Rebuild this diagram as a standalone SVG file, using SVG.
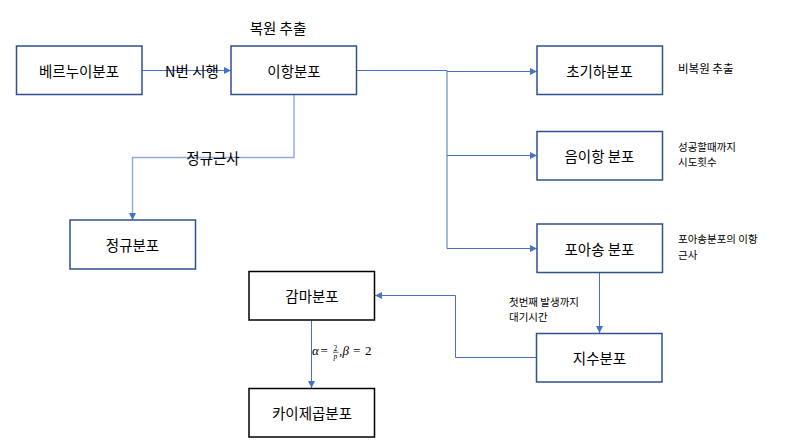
<svg xmlns="http://www.w3.org/2000/svg" width="800" height="443" viewBox="0 0 800 443">
<style>
.box{fill:#fff;stroke:#2F528F;stroke-width:1.5}
.bbox{fill:#fff;stroke:#000;stroke-width:1.5}
.nt{font-family:"Noto Sans CJK KR","Noto Sans",sans-serif;font-size:14.5px;fill:#000;text-anchor:middle;dominant-baseline:central}
.lt{font-family:"Noto Sans CJK KR","Noto Sans",sans-serif;font-size:14.5px;fill:#000}
.st{font-family:"Noto Sans CJK KR","Noto Sans",sans-serif;font-size:11.5px;fill:#000}
.st2{font-family:"Noto Sans CJK KR","Noto Sans",sans-serif;font-size:10.5px;fill:#000}
.ln{fill:none;stroke:#4472C4;stroke-width:1}
.ln2{fill:none;stroke:#8FAADC;stroke-width:1.4}
.mt{font-family:"Liberation Serif","DejaVu Serif",serif;font-size:13px;fill:#000}
.mi{font-style:italic}
</style>
<defs>
<marker id="ah" markerWidth="8" markerHeight="8" refX="7" refY="4" orient="auto" markerUnits="userSpaceOnUse">
<path d="M0,0.5 L7,4 L0,7.5 Z" fill="#4472C4"/>
</marker>
</defs>
<rect width="800" height="443" fill="#fff"/>
<g id="connectors">
<path class="ln" d="M142,70.5 H231" marker-end="url(#ah)"/>
<path class="ln2" d="M294,95 V157.5 H132.5 V220" marker-end="url(#ah)"/>
<path class="ln" d="M357,70.5 H447 V248.5"/>
<path class="ln" d="M447,71.5 H537" marker-end="url(#ah)"/>
<path class="ln" d="M447,155.5 H537" marker-end="url(#ah)"/>
<path class="ln" d="M447,248.5 H537" marker-end="url(#ah)"/>
<path class="ln" d="M599.5,272.5 V333" marker-end="url(#ah)"/>
<path class="ln" d="M536,357.5 H455.5 V295.5 H375" marker-end="url(#ah)"/>
<path class="ln" d="M311.5,320.5 V388" marker-end="url(#ah)"/>
</g>
<g id="labels">
<text class="lt" x="192" y="70.5" text-anchor="middle" dominant-baseline="central">N번 시행</text>
<text class="lt" x="278" y="27" text-anchor="middle" dominant-baseline="central">복원 추출</text>
<text class="lt" x="213" y="157.5" text-anchor="middle" dominant-baseline="central">정규근사</text>
<text class="st" x="678" y="73">비복원 추출</text>
<text class="st2" y="150.5"><tspan x="678">성공할때까지</tspan><tspan x="678" dy="15.4">시도횟수</tspan></text>
<text class="st2" y="243.3"><tspan x="678">포아송분포의 이항</tspan><tspan x="678" dy="15.4">근사</tspan></text>
<text class="st2" y="306"><tspan x="509">첫번째 발생까지</tspan><tspan x="509" dy="15.4">대기시간</tspan></text>
<g id="formula">
<line x1="333" y1="352.3" x2="338.5" y2="352.3" stroke="#000" stroke-width="0.6"/>
<text class="mt" y="355"><tspan class="mi" x="312">α</tspan><tspan x="320.5">=</tspan><tspan x="333.5" y="350.5" font-size="7.5">2</tspan><tspan class="mi" x="333.5" y="359" font-size="7.5">p</tspan><tspan x="339" y="355">,</tspan><tspan class="mi" x="342.5">β</tspan><tspan x="353">=</tspan><tspan x="365">2</tspan></text>
</g>
</g>
<g id="bernoulli"><rect class="box" x="16.5" y="46" width="125.5" height="48.5"/><text class="nt" x="79" y="70.5">베르누이분포</text></g>
<g id="binomial"><rect class="box" x="231" y="46" width="125.5" height="48.5"/><text class="nt" x="294" y="70.5">이항분포</text></g>
<g id="normal"><rect class="box" x="70" y="220" width="125.5" height="49"/><text class="nt" x="132.5" y="244.5">정규분포</text></g>
<g id="hypergeometric"><rect class="box" x="537" y="46" width="125.5" height="48.5"/><text class="nt" x="599.5" y="70.5">초기하분포</text></g>
<g id="negbinomial"><rect class="box" x="537" y="131.5" width="125.5" height="48.5"/><text class="nt" x="599.5" y="155.5">음이항 분포</text></g>
<g id="poisson"><rect class="box" x="537" y="224" width="125.5" height="48.5"/><text class="nt" x="599.5" y="248.5">포아송 분포</text></g>
<g id="exponential"><rect class="box" x="536.5" y="333.5" width="125.5" height="48.5"/><text class="nt" x="599.5" y="357.5">지수분포</text></g>
<g id="gamma"><rect class="bbox" x="249" y="271.5" width="125.5" height="48.5"/><text class="nt" x="312" y="295.5">감마분포</text></g>
<g id="chisquare"><rect class="bbox" x="249" y="388.5" width="125.5" height="48.5"/><text class="nt" x="312" y="412.5">카이제곱분포</text></g>
</svg>
